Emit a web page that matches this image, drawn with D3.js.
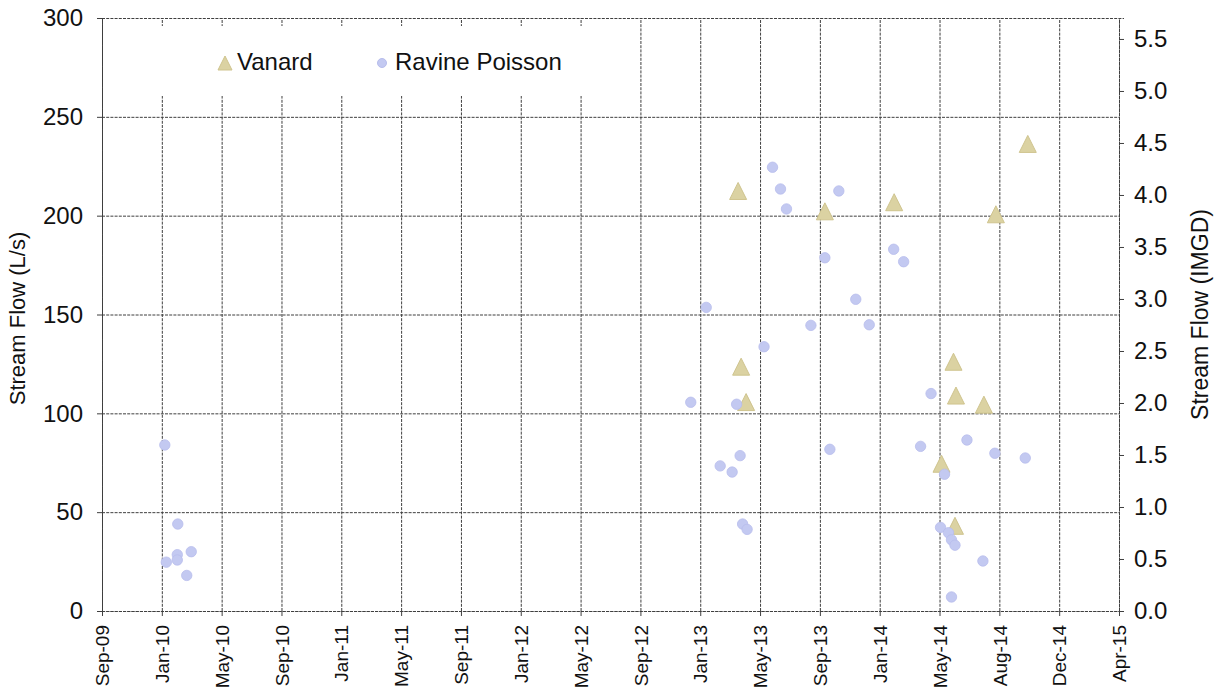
<!DOCTYPE html>
<html>
<head>
<meta charset="utf-8">
<script src="https://cdn.jsdelivr.net/npm/d3@7"></script>
<style>
  html, body { margin: 0; padding: 0; background: #fff; }
  svg { display: block; font-family: "Liberation Sans", Arial, sans-serif; }
</style>
</head>
<body>
<svg id="chart" width="1224" height="692"></svg>
<script>
// Ravine Poisson stream-flow measurements (L/s)
const ravineDates = [
  "2010-01-29", "2010-02-01", "2010-02-24", "2010-02-23", "2010-02-23", "2010-03-14", "2010-03-23",
  "2012-12-19", "2013-01-19", "2013-02-16", "2013-03-12", "2013-03-21", "2013-03-28", "2013-04-02",
  "2013-04-11", "2013-05-15", "2013-06-01", "2013-06-17", "2013-06-29", "2013-08-17", "2013-09-14",
  "2013-09-24", "2013-10-12", "2013-11-15", "2013-12-12", "2014-01-30", "2014-02-19", "2014-03-25",
  "2014-04-15", "2014-05-04", "2014-05-12", "2014-05-20", "2014-05-26", "2014-05-26", "2014-06-02",
  "2014-06-26", "2014-07-28", "2014-08-21", "2014-10-21"
];
const ravineFlow = [
  84, 24.7, 44, 28.5, 25.8, 18, 30,
  105.6, 153.6, 73.4, 70.3, 104.6, 78.6, 44,
  41.3, 133.7, 224.5, 213.5, 203.4, 144.5, 178.7,
  81.8, 212.5, 157.7, 144.8, 183, 176.7, 83.3,
  110, 42.3, 69.2, 39.6, 36, 7.1, 33.3,
  86.5, 25.3, 79.8, 77.4
];

// Vanard stream-flow measurements (L/s)
const vanardDates = [
  "2013-03-24", "2013-03-30", "2013-04-09", "2013-09-14", "2014-01-31", "2014-05-06",
  "2014-05-30", "2014-06-02", "2014-06-04", "2014-07-30", "2014-08-23", "2014-10-26"
];
const vanardFlow = [
  212.5, 123.6, 105.7, 202.2, 206.8, 74.5,
  126.1, 43.1, 109, 104.4, 200.7, 236.3
];

// Axis labelling
const xTickLabels = [
  "Sep-09", "Jan-10", "May-10", "Sep-10", "Jan-11", "May-11", "Sep-11", "Jan-12", "May-12",
  "Sep-12", "Jan-13", "May-13", "Sep-13", "Jan-14", "May-14", "Aug-14", "Dec-14", "Apr-15"
];
const yTicksLs = [0, 50, 100, 150, 200, 250, 300];
const yTicksImgd = [0, 0.5, 1, 1.5, 2, 2.5, 3, 3.5, 4, 4.5, 5, 5.5];
const seriesNames = ["Vanard", "Ravine Poisson"];
const leftTitle = "Stream Flow (L/s)";
const rightTitle = "Stream Flow (IMGD)";

// 1 imperial million gallons per day expressed in litres per second
const LS_PER_IMGD = 4546.09 / 86.4;

const svg = d3.select("#chart");
const parse = d3.utcParse("%Y-%m-%d");

const plot = { left: 102, right: 1119, top: 18, bottom: 611 };
const stepDays = 120;
const xStart = new Date(Date.UTC(2009, 8, 25));
const xEnd = d3.utcDay.offset(xStart, stepDays * (xTickLabels.length - 1));

const x = d3.scaleUtc().domain([xStart, xEnd]).range([plot.left, plot.right]);
const y = d3.scaleLinear().domain([0, 300]).range([plot.bottom, plot.top]);
const yR = d3.scaleLinear().domain([0, 300 / LS_PER_IMGD]).range([plot.bottom, plot.top]);

const xTickValues = xTickLabels.map((_, i) => d3.utcDay.offset(xStart, stepDays * i));

const gridColor = "#3f3f3f";
const gridDash = "3,1.2";

// Grid: vertical lines at each date tick
const vGrid = svg.append("g")
  .attr("transform", `translate(0,${plot.bottom})`)
  .call(d3.axisBottom(x).tickValues(xTickValues).tickSize(-(plot.bottom - plot.top)).tickFormat(""));
vGrid.select(".domain").remove();
vGrid.selectAll("line").attr("stroke", gridColor).attr("stroke-dasharray", gridDash).attr("stroke-width", 1);

// Grid: horizontal lines at each L/s tick
const hGrid = svg.append("g")
  .attr("transform", `translate(${plot.left},0)`)
  .call(d3.axisLeft(y).tickValues(yTicksLs).tickSize(-(plot.right - plot.left)).tickFormat(""));
hGrid.select(".domain").remove();
hGrid.selectAll("line").attr("stroke", gridColor).attr("stroke-dasharray", gridDash).attr("stroke-width", 1);

// Legend backdrop (hides the grid behind the legend)
svg.append("rect")
  .attr("x", 130).attr("y", 26).attr("width", 480).attr("height", 70)
  .attr("fill", "#fff");

// Left axis
const leftAxis = svg.append("g")
  .attr("transform", `translate(${plot.left},0)`)
  .call(d3.axisLeft(y).tickValues(yTicksLs).tickSize(5).tickPadding(14));
leftAxis.select(".domain").attr("stroke", gridColor).attr("stroke-dasharray", gridDash);
leftAxis.selectAll("line").attr("stroke", gridColor);
leftAxis.selectAll("text").attr("font-size", 24).attr("fill", "#111")
  .attr("font-family", "'Liberation Sans', Arial, sans-serif");

// Right axis (IMGD)
const rightAxis = svg.append("g")
  .attr("transform", `translate(${plot.right},0)`)
  .call(d3.axisRight(yR).tickValues(yTicksImgd).tickSize(5).tickPadding(10).tickFormat(d3.format(".1f")));
rightAxis.select(".domain").attr("stroke", gridColor).attr("stroke-dasharray", gridDash);
rightAxis.selectAll("line").attr("stroke", gridColor);
rightAxis.selectAll("text").attr("font-size", 24).attr("fill", "#111")
  .attr("font-family", "'Liberation Sans', Arial, sans-serif");

// Bottom axis with rotated month labels
const bottomAxis = svg.append("g")
  .attr("transform", `translate(0,${plot.bottom})`)
  .call(d3.axisBottom(x).tickValues(xTickValues).tickSize(5)
    .tickFormat((d, i) => xTickLabels[i]));
bottomAxis.select(".domain").attr("stroke", gridColor).attr("stroke-dasharray", gridDash);
bottomAxis.selectAll("line").attr("stroke", gridColor);
bottomAxis.selectAll("text")
  .attr("font-size", 19).attr("fill", "#111")
  .attr("font-family", "'Liberation Sans', Arial, sans-serif")
  .attr("text-anchor", "end")
  .attr("transform", "rotate(-90)")
  .attr("x", -14).attr("y", 0).attr("dy", "0.35em");

// Axis titles
svg.append("text")
  .attr("transform", `translate(25,${(plot.top + plot.bottom) / 2 + 4}) rotate(-90)`)
  .attr("text-anchor", "middle")
  .attr("font-size", 22).attr("fill", "#111")
  .text(leftTitle);
svg.append("text")
  .attr("transform", `translate(1208,${(plot.top + plot.bottom) / 2}) rotate(-90)`)
  .attr("text-anchor", "middle")
  .attr("font-size", 23).attr("fill", "#111")
  .text(rightTitle);

// Marker shapes
const triPath = (w, h) => `M0,${-h / 2}L${w / 2},${h / 2}L${-w / 2},${h / 2}Z`;
const triFill = "#dbd2a2", triStroke = "#cfc48e";
const dotFill = "#c3c9f1", dotStroke = "#b7bdec";

const vanard = vanardDates.map((d, i) => ({ date: parse(d), flow: vanardFlow[i] }));
const ravine = ravineDates.map((d, i) => ({ date: parse(d), flow: ravineFlow[i] }));

svg.append("g").selectAll("path")
  .data(vanard)
  .join("path")
  .attr("d", triPath(17, 17))
  .attr("transform", d => `translate(${x(d.date)},${y(d.flow)})`)
  .attr("fill", triFill).attr("stroke", triStroke).attr("stroke-width", 1);

svg.append("g").selectAll("circle")
  .data(ravine)
  .join("circle")
  .attr("cx", d => x(d.date))
  .attr("cy", d => y(d.flow))
  .attr("r", 5.2)
  .attr("fill", dotFill).attr("stroke", dotStroke).attr("stroke-width", 0.8);

// Legend
const legend = svg.append("g");
legend.append("path")
  .attr("d", triPath(14, 14))
  .attr("transform", "translate(225,63)")
  .attr("fill", triFill).attr("stroke", triStroke);
legend.append("text")
  .attr("x", 237).attr("y", 70)
  .attr("font-size", 24).attr("fill", "#111")
  .text(seriesNames[0]);
legend.append("circle")
  .attr("cx", 382).attr("cy", 63).attr("r", 4.5)
  .attr("fill", dotFill).attr("stroke", dotStroke);
legend.append("text")
  .attr("x", 395).attr("y", 70)
  .attr("font-size", 24).attr("fill", "#111")
  .text(seriesNames[1]);
</script>
</body>
</html>
